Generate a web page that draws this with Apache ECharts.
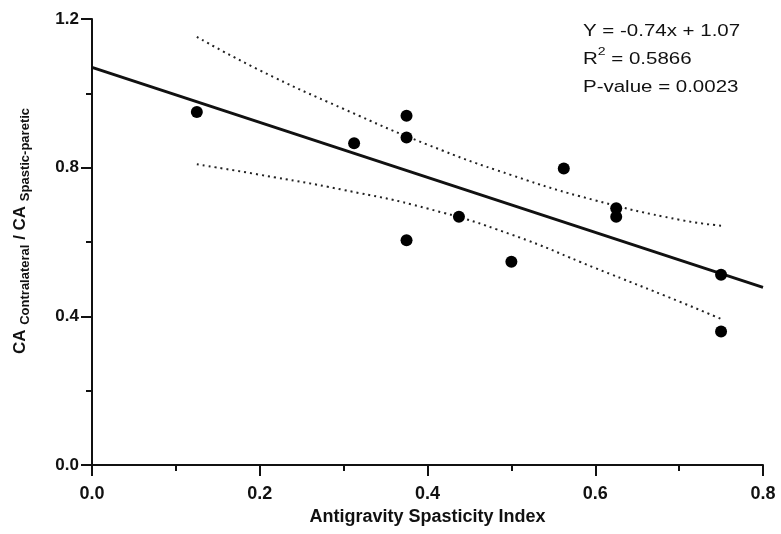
<!DOCTYPE html>
<html>
<head>
<meta charset="utf-8">
<script src="https://cdn.jsdelivr.net/npm/echarts@6/dist/echarts.min.js"></script>
<style>
  html, body { margin: 0; padding: 0; background: #fff; }
  #chart { width: 781px; height: 534px; }
</style>
</head>
<body>
<div id="chart"></div>
<script>
// Antigravity spasticity index vs. CA ratio (contralateral / spastic-paretic)
var asiValues = [0.125, 0.3125, 0.375, 0.375, 0.375, 0.4375, 0.5, 0.5625, 0.625, 0.625, 0.75, 0.75];
var caRatio   = [0.950, 0.866, 0.940, 0.881, 0.605, 0.668, 0.547, 0.798, 0.691, 0.668, 0.512, 0.359];

// Linear fit as reported: Y = -0.74x + 1.07
var fitSlope = -0.74;
var fitIntercept = 1.07;
var fitRange = [0, 0.8];

// 95% confidence band of the fit
var bandX     = [0.125, 0.2, 0.3, 0.4, 0.5, 0.6, 0.7, 0.75];
var bandUpper = [1.152, 1.062, 0.958, 0.862, 0.780, 0.712, 0.660, 0.644];
var bandLower = [0.809, 0.781, 0.740, 0.690, 0.620, 0.530, 0.440, 0.393];

// Axis ticks
var xTicks = [0.0, 0.2, 0.4, 0.6, 0.8];
var yTicks = [0.0, 0.4, 0.8, 1.2];

var statLines = ['Y = -0.74x + 1.07', 'R{sup|2} = 0.5866', 'P-value = 0.0023'];

var ink = '#111';
var pts = asiValues.map(function (x, i) { return [x, caRatio[i]]; });
var fitLine = fitRange.map(function (x) { return [x, fitSlope * x + fitIntercept]; });
var upper = bandX.map(function (x, i) { return [x, bandUpper[i]]; });
var lower = bandX.map(function (x, i) { return [x, bandLower[i]]; });

var chart = echarts.init(document.getElementById('chart'), null, { renderer: 'canvas' });

var axisCommon = {
  axisLine: { show: true, lineStyle: { color: ink, width: 2 } },
  axisTick: { show: true, inside: false, length: 11, lineStyle: { color: ink, width: 2 } },
  minorTick: { show: true, splitNumber: 2, length: 6, lineStyle: { color: ink, width: 2 } },
  splitLine: { show: false },
  minorSplitLine: { show: false }
};

chart.setOption({
  animation: false,
  backgroundColor: '#fff',
  grid: { left: 92, right: 18, top: 19, bottom: 69, containLabel: false },
  xAxis: Object.assign({
    type: 'value',
    min: xTicks[0],
    max: xTicks[xTicks.length - 1],
    interval: xTicks[1] - xTicks[0],
    name: 'Antigravity Spasticity Index',
    nameLocation: 'middle',
    nameGap: 43,
    nameTextStyle: { fontFamily: 'Liberation Sans', fontWeight: 'bold', fontSize: 18, color: ink },
    axisLabel: {
      margin: 20,
      fontFamily: 'Liberation Sans', fontWeight: 'bold', fontSize: 18, color: ink,
      formatter: function (v) { return v.toFixed(1); }
    }
  }, axisCommon),
  yAxis: Object.assign({
    type: 'value',
    min: yTicks[0],
    max: yTicks[yTicks.length - 1],
    interval: yTicks[1] - yTicks[0],
    name: '{m|CA }{s|Contralateral}{m| / CA }{s|Spastic-paretic}',
    nameLocation: 'middle',
    nameRotate: 90,
    nameGap: 60,
    nameTextStyle: {
      color: ink,
      padding: [0, 0, 0, 22],
      rich: {
        m: { fontFamily: 'Liberation Sans', fontWeight: 'bold', fontSize: 17, lineHeight: 24, verticalAlign: 'middle', color: ink },
        s: { fontFamily: 'Liberation Sans', fontWeight: 'bold', fontSize: 13, lineHeight: 13, verticalAlign: 'bottom', color: ink }
      }
    },
    axisLabel: {
      margin: 13,
      fontFamily: 'Liberation Sans', fontWeight: 'bold', fontSize: 17, color: ink,
      formatter: function (v) { return v.toFixed(1); }
    }
  }, axisCommon),
  graphic: [{
    type: 'text',
    left: 583,
    top: 18,
    scaleX: 1.28,
    style: {
      text: statLines.join('\n'),
      fontFamily: 'Liberation Sans',
      fontSize: 16,
      lineHeight: 28,
      fill: ink,
      rich: {
        sup: { fontFamily: 'Liberation Sans', fontSize: 11, lineHeight: 28, verticalAlign: 'top', fill: ink }
      }
    }
  }],
  series: [
    {
      name: 'fit',
      type: 'line',
      data: fitLine,
      symbol: 'none',
      lineStyle: { color: ink, width: 3 },
      z: 3
    },
    {
      name: 'upper95',
      type: 'line',
      data: upper,
      smooth: true,
      symbol: 'none',
      lineStyle: { color: '#222', width: 2, type: [2, 4] },
      z: 2
    },
    {
      name: 'lower95',
      type: 'line',
      data: lower,
      smooth: true,
      symbol: 'none',
      lineStyle: { color: '#222', width: 2, type: [2, 4] },
      z: 2
    },
    {
      name: 'subjects',
      type: 'scatter',
      data: pts,
      symbol: 'circle',
      symbolSize: 12,
      itemStyle: { color: '#000', opacity: 1 },
      z: 4
    }
  ]
});
</script>
</body>
</html>
